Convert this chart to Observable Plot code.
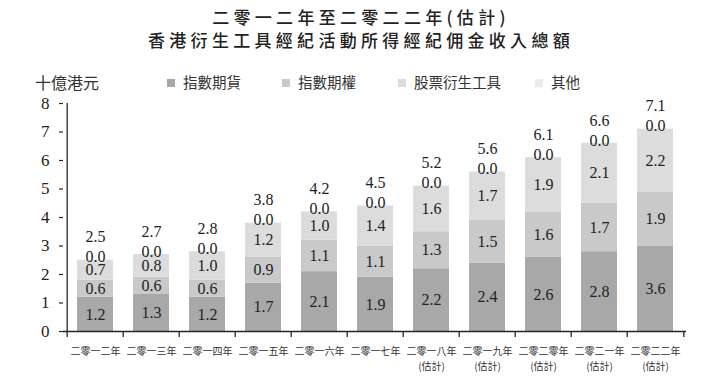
<!DOCTYPE html>
<html><head><meta charset="utf-8">
<script src="https://cdn.jsdelivr.net/npm/d3@7"></script>
<script src="https://cdn.jsdelivr.net/npm/@observablehq/plot@0.6"></script>
<style>
body{margin:0;background:#fff;}
#wrap{position:relative;width:722px;height:380px;overflow:hidden;background:#fff;}
.title{position:absolute;left:0;width:722px;text-align:center;font-family:"Noto Sans CJK TC";font-size:17px;font-weight:500;letter-spacing:4.3px;color:#222;line-height:20px;}
.unit{position:absolute;left:35px;top:70px;font-family:"Noto Sans CJK TC";font-size:16px;color:#333;}
.leg{position:absolute;top:71px;font-family:"Noto Sans CJK TC";font-size:14.5px;color:#333;white-space:nowrap;}
.leg span.sw{display:inline-block;width:8px;height:8px;margin-right:8px;vertical-align:1px;}
#chart{position:absolute;left:0;top:92px;}
</style></head>
<body><div id="wrap">
<div class="title" style="top:7px">二零一二年至二零二二年(估計)</div>
<div class="title" style="top:30px">香港衍生工具經紀活動所得經紀佣金收入總額</div>
<div class="unit">十億港元</div>
<div id="legend"></div>
<div id="chart"></div>
</div>
<script>
const years = ["二零一二年","二零一三年","二零一四年","二零一五年","二零一六年","二零一七年","二零一八年\n(估計)","二零一九年\n(估計)","二零二零年\n(估計)","二零二一年\n(估計)","二零二二年\n(估計)"];
const seriesNames = ["指數期貨","指數期權","股票衍生工具","其他"];
const seriesColors = ["#a8a8a8","#c9c9c9","#dcdcdc","#ececec"];
// bar heights as drawn
const futures = [1.2,1.3,1.2,1.7,2.1,1.9,2.2,2.4,2.6,2.8,3.0];
const options = [0.6,0.6,0.6,0.9,1.1,1.1,1.3,1.5,1.6,1.7,1.9];
const stockDeriv = [0.7,0.8,1.0,1.2,1.0,1.4,1.6,1.7,1.9,2.1,2.2];
const others = [0,0,0,0,0,0,0,0,0,0,0];
// printed labels
const futuresPrinted = ["1.2","1.3","1.2","1.7","2.1","1.9","2.2","2.4","2.6","2.8","3.6"];
const totals = [2.5,2.7,2.8,3.8,4.2,4.5,5.2,5.6,6.1,6.6,7.1];
const yTicks = [0,1,2,3,4,5,6,7,8];

const seriesValues = [futures, options, stockDeriv, others];
const rows = [];
seriesValues.forEach((vals, s) => vals.forEach((v, i) => rows.push({
  year: years[i], series: seriesNames[s], value: v,
  label: s === 0 ? futuresPrinted[i] : v.toFixed(1)
})));
const totalRows = years.map((y, i) => ({year: y, top: futures[i]+options[i]+stockDeriv[i]+others[i], label: totals[i].toFixed(1), other: others[i].toFixed(1)}));

// legend
const legendX = [167, 282, 398, 535];
document.getElementById("legend").innerHTML = seriesNames.map((n, i) =>
  `<div class="leg" style="left:${legendX[i]}px"><span class="sw" style="background:${seriesColors[i]}"></span>${n}</div>`).join("");

const W = 722, ML = 63, MR = 36;
const step = (W - ML - MR) / years.length;
const numFont = "Liberation Serif";
const axisColor = "#2a2525";

const chart = Plot.plot({
  width: W, height: 288,
  marginLeft: ML, marginRight: MR, marginTop: 11, marginBottom: 49,
  style: {fontFamily: numFont, background: "#fff", color: "#222"},
  x: {domain: years, paddingInner: 0.365, paddingOuter: 0.1825, axis: null},
  y: {domain: [0, 8], axis: null},
  color: {domain: seriesNames, range: seriesColors},
  marks: [
    Plot.barY(rows, {x: "year", y: "value", fill: "series"}),
    Plot.text(rows.filter(d => d.series !== "其他"), Plot.stackY({x: "year", y: "value", z: "series", text: "label", fontSize: 16, fill: "#222"})),
    Plot.text(totalRows, {x: "year", y: "top", text: "other", fontSize: 16, fill: "#222", dy: -3}),
    Plot.text(totalRows, {x: "year", y: "top", text: "label", fontSize: 16, fill: "#222", dy: -23}),
    Plot.axisY({ticks: yTicks, tickSize: 4, tickPadding: 10, fontSize: 17, label: null, stroke: axisColor, fill: "#222", strokeWidth: 1.2}),
    Plot.ruleY([0], {stroke: axisColor, strokeWidth: 1.3}),
    Plot.ruleX([years[0]], {y1: 0, y2: 8, dx: -step/2, stroke: axisColor, strokeWidth: 1.3}),
    Plot.ruleX(years, {x: d => d, y1: 0, y2: 0, insetBottom: -6, dx: -step/2, stroke: axisColor, strokeWidth: 1.3}),
    Plot.ruleX([years[years.length-1]], {y1: 0, y2: 0, insetBottom: -6, dx: step/2, stroke: axisColor, strokeWidth: 1.3}),
    Plot.text(years, {x: d => d, frameAnchor: "bottom", lineAnchor: "top", dy: 13, text: d => d, fontSize: 10, lineHeight: 1.5, fontFamily: "Noto Sans CJK TC", fill: "#333"})
  ]
});
document.getElementById("chart").appendChild(chart);
</script>
</body></html>
